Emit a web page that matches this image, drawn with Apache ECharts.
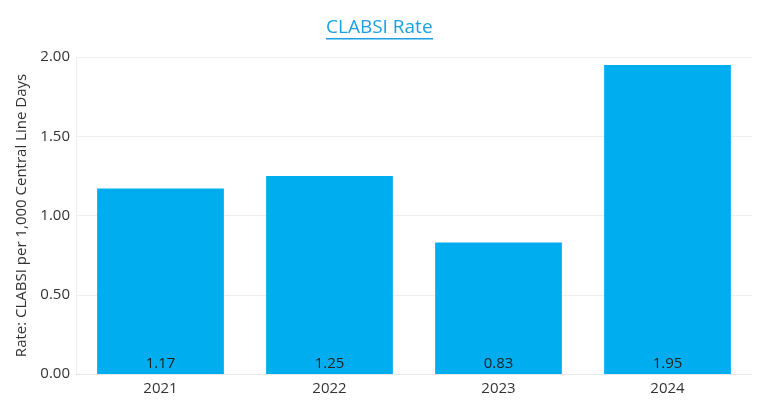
<!DOCTYPE html>
<html>
<head>
<meta charset="utf-8">
<script src="https://cdn.jsdelivr.net/npm/echarts@6/dist/echarts.min.js"></script>
<style>html,body{margin:0;padding:0;background:#fff}#c{width:770px;height:420px}</style>
</head>
<body>
<div id="c"></div>
<script>
const categories = ['2021', '2022', '2023', '2024'];
const rates = [1.17, 1.25, 0.83, 1.95];
const yTicks = [0, 0.5, 1.0, 1.5, 2.0];
const titleText = 'CLABSI Rate';
const yName = 'Rate: CLABSI per 1,000 Central Line Days';

const FONT = '"Open Sans", "Noto Sans", sans-serif';
const TITLE_SIZE = 19;
const ctx = document.createElement('canvas').getContext('2d');
ctx.font = TITLE_SIZE + 'px ' + FONT;
const tw = Math.round(ctx.measureText(titleText).width);
const tLeft = Math.round(379 - tw / 2);

const chart = echarts.init(document.getElementById('c'), null, {renderer: 'canvas'});
chart.setOption({
  animation: false,
  title: {
    text: titleText,
    left: tLeft,
    top: 18,
    padding: 0,
    textStyle: {color: '#1ba1e2', fontSize: TITLE_SIZE, fontWeight: 'normal', fontFamily: FONT}
  },
  graphic: [{
    type: 'rect',
    left: tLeft, top: 38,
    shape: {width: tw, height: 1.5},
    style: {fill: '#1ba1e2'}
  }],
  grid: {left: 76, right: 18, top: 57, bottom: 46},
  xAxis: {
    type: 'category',
    data: categories,
    axisTick: {show: false},
    axisLine: {show: true, lineStyle: {color: '#e6e6e6'}},
    axisLabel: {color: '#333', fontSize: 15, fontFamily: FONT, margin: 7}
  },
  yAxis: {
    type: 'value',
    min: yTicks[0], max: yTicks[yTicks.length - 1], interval: 0.5,
    name: yName,
    nameLocation: 'middle',
    nameGap: 44,
    nameTextStyle: {color: '#333', fontSize: 15, fontFamily: FONT},
    axisLine: {show: true, lineStyle: {color: '#f0f0f0'}},
    axisTick: {show: false},
    splitLine: {lineStyle: {color: '#efefef'}},
    axisLabel: {color: '#333', fontSize: 15, fontFamily: FONT, margin: 6,
      formatter: v => v.toFixed(2)}
  },
  series: [{
    type: 'bar',
    data: rates,
    barWidth: '75%',
    itemStyle: {color: '#00aeef'},
    label: {
      show: true,
      position: 'insideBottom',
      distance: 3,
      color: '#222',
      fontSize: 15,
      fontFamily: FONT,
      formatter: p => p.value.toFixed(2)
    }
  }]
});
</script>
</body>
</html>
